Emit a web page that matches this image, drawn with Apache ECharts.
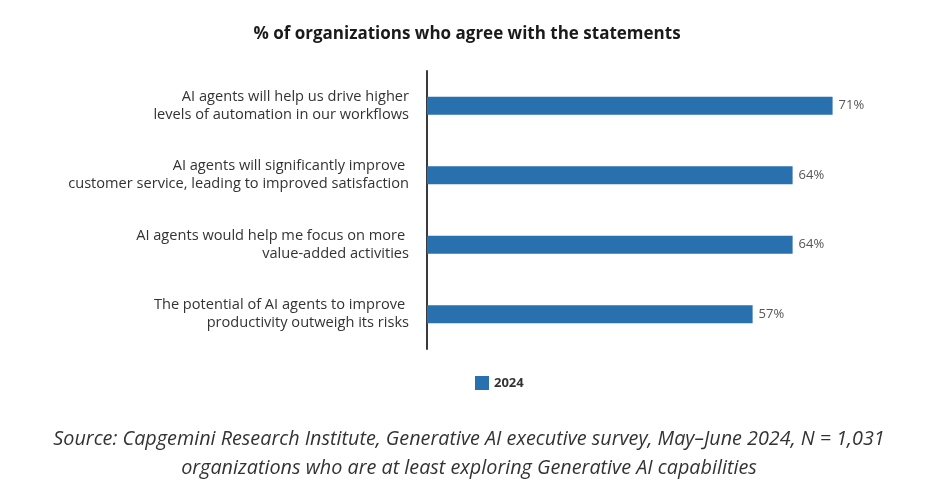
<!DOCTYPE html>
<html>
<head>
<meta charset="utf-8">
<script src="https://cdn.jsdelivr.net/npm/echarts@6/dist/echarts.min.js"></script>
<style>
  html, body { margin: 0; padding: 0; background: #fff; }
  #chart { width: 934px; height: 502px; }
</style>
</head>
<body>
<div id="chart"></div>
<script>
// data
const statements = [
    'AI agents will help us drive higher\nlevels of automation in our workflows',
    'AI agents will significantly improve \ncustomer service, leading to improved satisfaction',
    'AI agents would help me focus on more \nvalue-added activities',
    'The potential of AI agents to improve \nproductivity outweigh its risks'
];
const values2024 = [71, 64, 64, 57];
const seriesName = '2024';

const fontFamily = '"Open Sans", "Noto Sans", sans-serif';

var myChart = echarts.init(document.getElementById('chart'));
myChart.setOption({
    animation: false,
    title: {
        text: '% of organizations who agree with the statements',
        left: 'center',
        top: 21,
        textStyle: {
            fontFamily: fontFamily,
            fontSize: 17,
            fontWeight: 'bold',
            color: '#1a1a1a'
        }
    },
    // source note under the chart, two centred lines
    graphic: [
        {
            type: 'text',
            x: 469,
            y: 425,
            style: {
                text: 'Source: Capgemini Research Institute, Generative AI executive survey, May\u2013June 2024, N = 1,031\norganizations who are at least exploring Generative AI capabilities',
                align: 'center',
                fontFamily: fontFamily,
                fontSize: 19.8,
                fontStyle: 'italic',
                lineHeight: 29,
                fill: '#333'
            }
        }
    ],
    legend: {
        data: [seriesName],
        left: 470,
        top: 371,
        itemWidth: 14,
        itemHeight: 14,
        itemGap: 9,
        icon: 'rect',
        textStyle: {
            fontFamily: fontFamily,
            fontSize: 13,
            fontWeight: 'bold',
            color: '#333'
        }
    },
    grid: {
        left: 427,
        right: 50,
        top: 71,
        height: 278,
        containLabel: false
    },
    xAxis: {
        type: 'value',
        min: 0,
        max: 80,
        show: false
    },
    yAxis: {
        type: 'category',
        inverse: true,
        data: statements,
        axisTick: { show: false },
        axisLine: {
            lineStyle: { color: '#3a3a3a', width: 2 }
        },
        axisLabel: {
            margin: 18,
            fontFamily: fontFamily,
            fontSize: 14.6,
            lineHeight: 18,
            align: 'right',
            color: '#333'
        }
    },
    series: [
        {
            name: seriesName,
            type: 'bar',
            data: values2024,
            barWidth: 18,
            itemStyle: { color: '#2870ae' },
            label: {
                show: true,
                position: 'right',
                distance: 6,
                formatter: '{c}%',
                fontFamily: fontFamily,
                fontSize: 13,
                color: '#555'
            }
        }
    ]
});
</script>
</body>
</html>
